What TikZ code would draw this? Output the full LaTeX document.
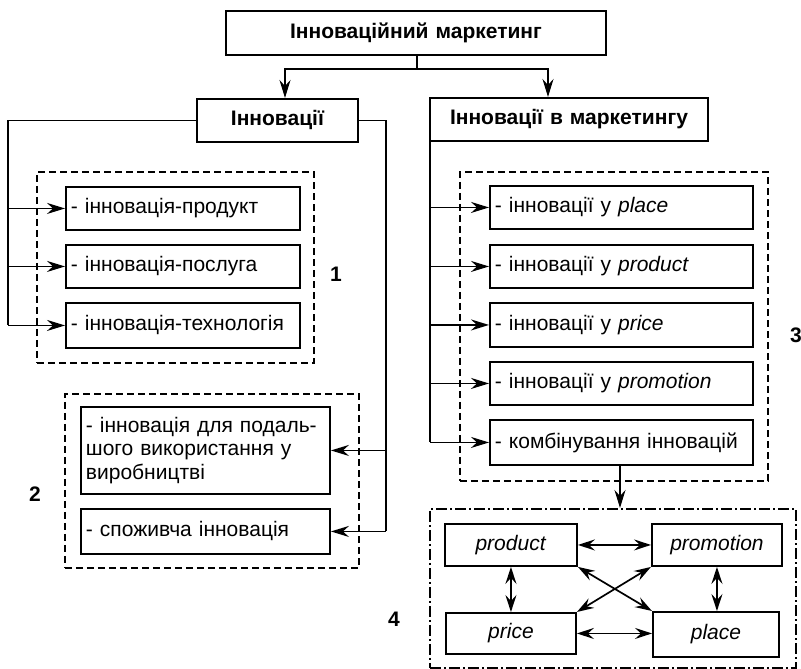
\documentclass[tikz,border=0pt]{standalone}
\usepackage{fontspec}
\setmainfont{Liberation Sans}
\usetikzlibrary{arrows.meta,calc}
\tikzset{
  box/.style={draw, line width=1.9pt, inner xsep=5pt, inner ysep=0pt, anchor=north west,
    font=\fontsize{21}{23.5}\selectfont},
  grp/.style={draw, line width=1.5pt, dash pattern=on 7pt off 4pt, anchor=north west, inner sep=0pt},
  grpdd/.style={draw, line width=1.5pt, dash pattern=on 11pt off 3pt on 2pt off 3pt, anchor=north west, inner sep=0pt},
  conn/.style={line width=1.7pt},
  arr/.style={conn, -{Stealth[length=18pt,width=11pt,inset=6pt]}},
  dbl/.style={conn, {Stealth[length=17pt,width=11pt,inset=6pt]}-{Stealth[length=17pt,width=11pt,inset=6pt]}},
  lbl/.style={font=\fontsize{21}{24}\selectfont\bfseries, inner sep=0pt}
}
\newcommand\bx[7]{%
  \pgfmathsetmacro\bxtw{#4-#2-10}%
  \pgfmathsetmacro\bxh{#5-#3}%
  \node[box, text width=\bxtw pt, minimum height=\bxh pt, align=#6] (#1) at (#2,#3) {#7};}
\newcommand\gr[6]{%
  \pgfmathsetmacro\bxw{#4-#2}%
  \pgfmathsetmacro\bxh{#5-#3}%
  \node[#6, minimum width=\bxw pt, minimum height=\bxh pt] (#1) at (#2,#3) {};}
\begin{document}
\begin{tikzpicture}[x=1pt,y=-1pt]
\useasboundingbox (0,0) rectangle (801,669);
% groups
\gr{g1}{36}{171}{313}{362}{grp}
\gr{g2}{64}{393}{358}{567}{grp}
\gr{g3}{459}{171}{767}{480}{grp}
\gr{g4}{429}{508}{795}{667}{grpdd}
% main boxes
\bx{top}{225}{10}{605}{54}{center}{\bfseries Інноваційний маркетинг}
\bx{inn}{196}{98}{357}{141}{center}{\bfseries Інновації}
\bx{innm}{429}{97}{707}{140}{center}{\bfseries Інновації в маркетингу}
% group 1
\bx{a1}{65}{186}{299}{229}{left}{- інновація-продукт}
\bx{a2}{65}{244}{299}{287}{left}{- інновація-послуга}
\bx{a3}{65}{302}{299}{347}{left}{- інновація-технологія}
% group 2
\bx{b1}{80}{406}{329}{493}{left}{- інновація для подаль-\\шого використання у\\виробництві}
\bx{b2}{80}{508}{329}{553}{left}{- споживча інновація}
% group 3
\bx{c1}{489}{185}{752}{228}{left}{- інновації у \textit{place}}
\bx{c2}{489}{244}{752}{287}{left}{- інновації у \textit{product}}
\bx{c3}{489}{302}{752}{346}{left}{- інновації у \textit{price}}
\bx{c4}{489}{361}{752}{404}{left}{- інновації у \textit{promotion}}
\bx{c5}{489}{419}{752}{464}{left}{- комбінування інновацій}
% group 4
\bx{product}{444}{523}{576}{565}{center}{\textit{product}}
\bx{promotion}{651}{523}{781}{565}{center}{\textit{promotion}}
\bx{price}{445}{612}{575}{653}{center}{\textit{price}}
\bx{place}{652}{611}{778}{656}{center}{\textit{place}}
% labels
\node[lbl] (l1) at (336,274) {1};
\node[lbl] (l2) at (35,494) {2};
\node[lbl] (l3) at (796,335) {3};
\node[lbl] (l4) at (394,619) {4};
% top connectors
\coordinate (j) at (417,69);
\coordinate (jl) at (285,69);
\coordinate (jr) at (548,69);
\draw[conn] (j |- top.south) -- (j);
\draw[arr] (j) -- (jl) -- (jl |- inn.north);
\draw[arr] (j) -- (jr) -- (jr |- innm.north);
% left bus
\coordinate (lb) at (8,118);
\draw[conn] (inn.west) -- (inn.west -| lb) -- (lb |- a3.west);
\draw[arr] (lb |- a1.west) -- (a1.west);
\draw[arr] (lb |- a2.west) -- (a2.west);
\draw[arr] (lb |- a3.west) -- (a3.west);
% right bus of Інновації
\coordinate (rb) at (386,118);
\draw[conn] (inn.east) -- (inn.east -| rb) -- (rb |- b2.east);
\draw[arr] (rb |- b1.east) -- (b1.east);
\draw[arr] (rb |- b2.east) -- (b2.east);
% bus of Інновації в маркетингу
\coordinate (mb) at (430,140);
\draw[conn] (mb |- innm.south) -- (mb |- c5.west);
\draw[arr] (mb |- c1.west) -- (c1.west);
\draw[arr] (mb |- c2.west) -- (c2.west);
\draw[arr] (mb |- c3.west) -- (c3.west);
\draw[arr] (mb |- c4.west) -- (c4.west);
\draw[arr] (mb |- c5.west) -- (c5.west);
% to group 4
\coordinate (cx) at (620,464);
\draw[arr] (cx |- c5.south) -- (cx |- g4.north);
% 4P arrows
\draw[dbl] (product.east) -- (promotion.west);
\draw[dbl] (price.east) -- (price.east -| place.west);
\draw[dbl] (product.south) -- (price.north);
\draw[dbl] (promotion.south) -- (promotion.south |- place.north);
\draw[dbl] (product.south east) -- (place.north west);
\draw[dbl] (promotion.south west) -- (price.north east);
\end{tikzpicture}
\end{document}
